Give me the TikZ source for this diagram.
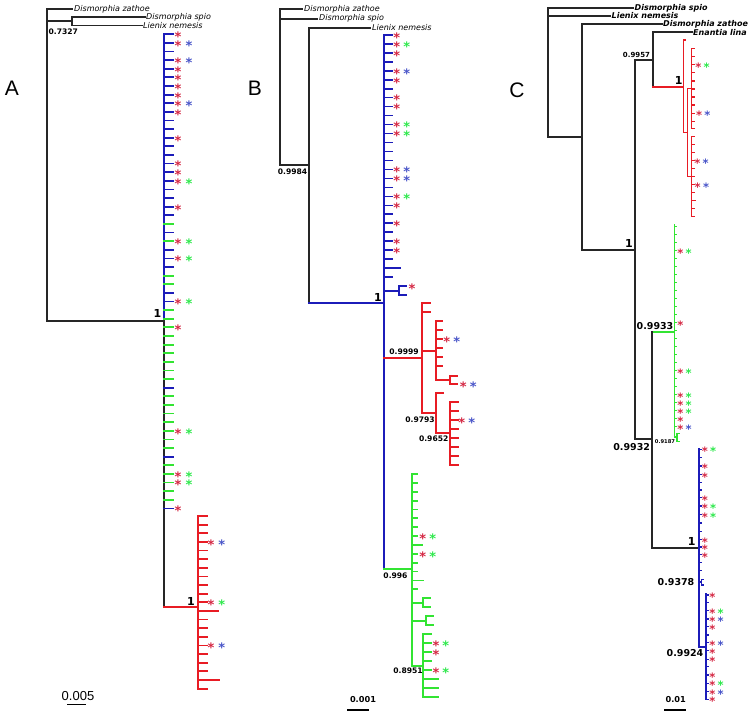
\documentclass[tikz,border=0pt]{standalone}
\usepackage{fontspec}
\setmainfont{DejaVu Sans}
\newfontfamily\lib{Liberation Sans}
\definecolor{cr}{RGB}{232,28,36}
\definecolor{cb}{RGB}{28,28,185}
\definecolor{cg}{RGB}{50,228,50}
\definecolor{sr}{RGB}{212,38,66}
\definecolor{sb}{RGB}{72,84,200}
\definecolor{sg}{RGB}{45,232,75}
\tikzset{
 bk/.style={line width=1.8pt, black!85, line cap=rect},
 lr/.style={line width=1.8pt, cr, line cap=rect},
 lb/.style={line width=1.8pt, cb, line cap=rect},
 lg/.style={line width=1.8pt, cg, line cap=rect},
 st/.style={font=\bfseries\fontsize{13}{13}\selectfont, inner sep=0pt, anchor=base, yshift=-7.4pt},
 sts/.style={font=\bfseries\fontsize{11.5}{12}\selectfont, inner sep=0pt, anchor=base, yshift=-6.6pt},
 sp/.style={font=\itshape\fontsize{8}{8}\selectfont, anchor=west, inner sep=1pt},
 spb/.style={font=\bfseries\itshape\fontsize{8}{8}\selectfont, anchor=west, inner sep=1pt},
 bv/.style={font=\bfseries\fontsize{7.6}{8}\selectfont, inner sep=0pt},
 bvl/.style={font=\bfseries\fontsize{9.5}{10}\selectfont, inner sep=0pt},
 one/.style={font=\bfseries\fontsize{11}{11}\selectfont, inner sep=0pt},
 panel/.style={font=\lib\fontsize{21}{21}\selectfont, inner sep=0pt},
}
\begin{document}
\begin{tikzpicture}[x=1pt,y=-1pt]
\useasboundingbox (0,0) rectangle (750,714);
% ================= PANEL A =================
\node[panel] (labA) at (12,88) {A};
\draw[bk] (72,9) -- (47,9) -- (47,321) -- (164,321);
\draw[bk] (47,21) -- (72,21);
\draw[bk] (145,17) -- (72,17) -- (72,25.5) -- (142,25.5);
\node[sp] (aZ) at (73,9) {Dismorphia zathoe};
\node[sp] (aS) at (145,17) {Dismorphia spio};
\node[sp] (aL) at (142,25.5) {Lienix nemesis};
\node[bv, anchor=west] (aV1) at (48.5,32) {0.7327};
\node[one] (aV2) at (157.5,313.5) {1};
\draw[lb] (164,34.3) -- (164,321);
\draw[bk] (164,321) -- (164,607);
\foreach \c [count=\i from 0] in {lb,lb,lb,lb,lb,lb,lb,lb,lb,lb,lb,lb,lb,lb,lb,lb,lb,lb,lb,lb,lb,lb,lg,lb,lg,lb,lb,lb,lg,lg,lb,lb,lg,lg,lg,lg,lg,lg,lg,lg,lg,lb,lg,lg,lg,lg,lg,lg,lg,lb,lg,lg,lg,lg,lg,lb}
  \draw[\c] (164,{34.3+8.62*\i}) -- ++(9,0);
\foreach \i in {0,1,3,4,5,6,7,8,9,12,15,16,17,20,24,26,31,34,46,51,52,55}
  \node[st,text=sr] (aR\i) at (178,{34.3+8.62*\i}) {*};
\foreach \i/\c in {1/sb,3/sb,8/sb,17/sg,24/sg,26/sg,31/sg,46/sg,51/sg,52/sg}
  \node[st,text=\c] (aS\i) at (189,{34.3+8.62*\i}) {*};
% red clade A
\draw[lr] (164,607) -- (197.7,607);
\draw[lr] (197.7,516) -- (197.7,688.6);
\foreach \j in {0,...,20}
  \draw[lr] (197.7,{516+8.63*\j}) -- ++(9,0);
\draw[lr] (197.7,{516+8.63*11}) -- (218,{516+8.63*11});
\draw[lr] (197.7,{516+8.63*19}) -- (219,{516+8.63*19});
\node[one] (aV3) at (191,601) {1};
\foreach \j/\c in {3/sb,10/sg,15/sb}{
  \node[st,text=sr] (aQ\j) at (211,{516+8.63*\j}) {*};
  \node[st,text=\c] (aP\j) at (221.7,{516+8.63*\j}) {*};}
\node[font=\lib\fontsize{13}{13}\selectfont, inner sep=0pt] (aScale) at (78,696) {0.005};
\draw[line width=1.3pt] (67,704.5) -- (86,704.5);
% ================= PANEL B =================
\node[panel] (labB) at (255,88) {B};
\draw[bk] (302,9) -- (280,9) -- (280,165) -- (309,165);
\draw[bk] (280,18.7) -- (317,18.7);
\draw[bk] (370,27.7) -- (309,27.7) -- (309,303);
\node[sp] (bZ) at (303,9) {Dismorphia zathoe};
\node[sp] (bS) at (318,18.7) {Dismorphia spio};
\node[sp] (bL) at (371,27.7) {Lienix nemesis};
\node[bv] (bV1) at (292.5,172) {0.9984};
\draw[lb] (309,303) -- (384,303);
\node[one] (bV2) at (378,297) {1};
\draw[lb] (384,34.7) -- (384,569.3);
\foreach \i in {0,...,27}
  \draw[lb] (384,{34.7+8.985*\i}) -- ++(7.7,0);
\draw[lb] (384,{34.7+8.985*26}) -- (400,{34.7+8.985*26});
\foreach \i in {0,1,2,4,5,7,8,10,11,15,16,18,19,21,23,24}
  \node[st,text=sr] (bR\i) at (396.7,{34.7+8.985*\i}) {*};
\foreach \i/\c in {1/sg,4/sb,10/sg,11/sg,15/sb,16/sb,18/sg}
  \node[st,text=\c] (bS\i) at (406.7,{34.7+8.985*\i}) {*};
\draw[lb] (384,290.7) -- (399,290.7);
\draw[lb] (405.7,286) -- (399,286) -- (399,295.3) -- (405.7,295.3);
\node[st,text=sr] (bX) at (412,286.5) {*};
% red clade B
\draw[lr] (384,358.3) -- (422.3,358.3);
\draw[lr] (430,303.3) -- (422.3,303.3) -- (422.3,413.3) -- (435.7,413.3);
\draw[lr] (422.3,312.3) -- (430,312.3);
\draw[lr] (422.3,350.7) -- (435.7,350.7);
\draw[lr] (435.7,321) -- (435.7,380) -- (450,380);
\foreach \y in {321,330,339,348.3,357.3,366}
  \draw[lr] (435.7,\y) -- (442,\y);
\draw[lr] (456.7,375.7) -- (450,375.7) -- (450,384.3) -- (456.7,384.3);
\node[st,text=sr] (bR1a) at (446.7,339) {*};
\node[st,text=sb] (bR1b) at (456.7,339) {*};
\node[st,text=sr] (bR2a) at (463.3,384) {*};
\node[st,text=sb] (bR2b) at (473.3,384) {*};
\draw[lr] (443,393.3) -- (435.7,393.3) -- (435.7,432.7) -- (450,432.7);
\draw[lr] (450,401.7) -- (450,465);
\foreach \k in {0,...,7}
  \draw[lr] (450,{401.7+9.04*\k}) -- (457.7,{401.7+9.04*\k});
\node[st,text=sr] (bR3a) at (461.7,419.8) {*};
\node[st,text=sb] (bR3b) at (471.7,419.8) {*};
\node[bv] (bV3) at (404,352) {0.9999};
\node[bv] (bV4) at (420,419.3) {0.9793};
\node[bv] (bV5) at (433.7,438.3) {0.9652};
% green clade B
\draw[lg] (384,569.3) -- (411.7,569.3);
\draw[lg] (411.7,474) -- (411.7,665.7) -- (423.3,665.7);
\foreach \k in {0,...,13}
  \draw[lg] (411.7,{474+8.87*\k}) -- ++(5,0);
\draw[lg] (411.7,{474+8.87*8}) -- (421.7,{474+8.87*8});
\draw[lg] (411.7,{474+8.87*12}) -- (423,{474+8.87*12});
\draw[lg] (411.7,602.7) -- (422.7,602.7);
\draw[lg] (430,598.2) -- (422.7,598.2) -- (422.7,607) -- (430,607);
\draw[lg] (411.7,620.7) -- (425.7,620.7);
\draw[lg] (432.7,616.3) -- (425.7,616.3) -- (425.7,625.3) -- (432.7,625.3);
\draw[lg] (423.3,634.3) -- (423.3,696.7);
\foreach \t in {0,...,4}
  \draw[lg] (423.3,{634.3+8.9*\t}) -- (431,{634.3+8.9*\t});
\foreach \t in {5,6,7}
  \draw[lg] (423.3,{634.3+8.9*\t}) -- (438,{634.3+8.9*\t});
\foreach \k in {7,9}{
  \node[st,text=sr] (bG\k) at (422.7,{474+8.87*\k}) {*};
  \node[st,text=sg] (bH\k) at (432.7,{474+8.87*\k}) {*};}
\foreach \t in {1,2,4}
  \node[st,text=sr] (bT\t) at (436,{634.3+8.9*\t}) {*};
\foreach \t in {1,4}
  \node[st,text=sg] (bU\t) at (445.7,{634.3+8.9*\t}) {*};
\node[bv] (bV6) at (395.5,576) {0.996};
\node[bv] (bV7) at (408,670.7) {0.8951};
\node[font=\bfseries\fontsize{8.2}{9}\selectfont, inner sep=0pt] (bScale) at (363,699.5) {0.001};
\draw[line width=1.4pt] (347,710) -- (369,710);
% ================= PANEL C =================
\node[panel] (labC) at (517,90) {C};
\draw[bk] (633,8) -- (548.3,8) -- (548.3,136.7) -- (582.3,136.7);
\draw[bk] (548.3,16) -- (610,16);
\draw[bk] (661.7,24) -- (582.3,24) -- (582.3,250) -- (634.7,250);
\draw[bk] (653.3,60.3) -- (634.7,60.3) -- (634.7,439.3) -- (651.7,439.3);
\draw[bk] (691.7,32.3) -- (653.3,32.3) -- (653.3,86.7);
\node[spb] (cS) at (633.5,8) {Dismorphia spio};
\node[spb] (cL) at (610.5,16) {Lienix nemesis};
\node[spb] (cZ) at (662,24) {Dismorphia zathoe};
\node[spb] (cE) at (692,32.3) {Enantia lina};
\node[font=\bfseries\fontsize{7}{7}\selectfont, inner sep=0pt] (cV1) at (636.5,54.7) {0.9957};
\node[one] (cV2) at (629,243.3) {1};
% red clade C
\draw[lr] (653.3,86.7) -- (683.3,86.7);
\node[one] (cV3) at (678.7,80.5) {1};
\draw[lr, line width=1.5pt] (685.7,40) -- (683.3,40) -- (683.3,132.7) -- (686.7,132.7);
\draw[lr, line width=1.5pt] (691.7,48.3) -- (691.7,128.3);
\foreach \y in {48.3,56.5,64.7,72.9,81,89,97,105,113.3,121.4,128.3}
  \draw[lr, line width=1.1pt] (691.7,\y) -- ++(2.6,0);
\draw[lr, line width=1.5pt] (690,88.3) -- (687.7,88.3) -- (687.7,176.7) -- (690,176.7);
\draw[lr, line width=1.5pt] (691.7,136.7) -- (691.7,216.7);
\foreach \y in {136.7,144.7,152.7,160.7,168.7,176.7,184.7,192.7,208.7,216.7}
  \draw[lr, line width=1.1pt] (691.7,\y) -- ++(2.6,0);
\draw[lr, line width=1.5pt] (691.7,200.7) -- (695.7,200.7);
\node[sts,text=sr] (cr1) at (698.3,65) {*};
\node[sts,text=sg] (cr2) at (706.7,65) {*};
\node[sts,text=sr] (cr3) at (699,113.3) {*};
\node[sts,text=sb] (cr4) at (707.3,113.3) {*};
\node[sts,text=sr] (cr5) at (697.3,161.3) {*};
\node[sts,text=sb] (cr6) at (705.7,161.3) {*};
\node[sts,text=sr] (cr7) at (697.7,185) {*};
\node[sts,text=sb] (cr8) at (706,185) {*};
% green clade C
\draw[lg] (651.7,331.7) -- (674.3,331.7);
\draw[bk] (651.7,331.7) -- (651.7,548.3) -- (698.7,548.3);
\node[bvl] (cV4) at (655,326) {0.9933};
\node[bvl] (cV5) at (631.7,447.3) {0.9932};
\node[font=\bfseries\fontsize{5.2}{6}\selectfont, inner sep=0pt] (cV6) at (665,442) {0.9187};
\draw[lg, line width=1.5pt] (674.3,225) -- (674.3,437) -- (677,437);
\foreach \k in {0,...,25}
  \draw[lg, line width=1pt] (674.3,{426.7-8*\k}) -- ++(2.6,0);
\draw[lg, line width=1.4pt] (679.3,433.3) -- (677,433.3) -- (677,441.7) -- (679.3,441.7);
\foreach \y in {250.7,322.7,370.7,394.7,402.7,410.7,418.7,426.7}
  \node[sts,text=sr] (cg\y) at (680.3,\y) {*};
\foreach \y/\c in {250.7/sg,370.7/sg,394.7/sg,402.7/sg,410.7/sg,426.7/sb}
  \node[sts,text=\c] (ch\y) at (688.5,\y) {*};
% blue clade C
\draw[lb] (698.7,449.3) -- (698.7,646.7) -- (706,646.7);
\foreach \y in {449.3,457.7,466,474.4,482.5,490,497.5,506,514.5,523,531.5,539.5,547,554.5,562.5,570.7}
  \draw[lb, line width=1.1pt] (698.7,\y) -- ++(2.8,0);
\draw[lb] (698.7,581.7) -- (701.5,581.7);
\draw[lb, line width=1.4pt] (703.5,579.3) -- (701.5,579.3) -- (701.5,585) -- (703.5,585);
\node[bvl] (cV7) at (676,581.7) {0.9378};
\node[one] (cV8) at (691.7,541.7) {1};
\foreach \y in {449.3,466,474.4,497.5,506,514.5,539.5,547,554.5}
  \node[sts,text=sr] (cb\y) at (705,\y) {*};
\foreach \y in {449.3,506,514.5}
  \node[sts,text=sg] (cc\y) at (713,\y) {*};
\draw[lb] (706,594) -- (706,699.3);
\foreach \y in {595,602.7,610.7,619,626.7,635,642.7,650.7,659.3,666.7,675,683.3,691.7,699.3}
  \draw[lb, line width=1.1pt] (706,\y) -- ++(2.6,0);
\foreach \y in {595,610.7,619,626.7,642.7,650.7,659.3,675,683.3,691.7,699.3}
  \node[sts,text=sr] (cd\y) at (712.3,\y) {*};
\foreach \y/\c in {610.7/sg,619/sb,642.7/sb,683.3/sg,691.7/sb}
  \node[sts,text=\c] (ce\y) at (720.7,\y) {*};
\node[bvl] (cV9) at (685,652.7) {0.9924};
\node[font=\bfseries\fontsize{8.2}{9}\selectfont, inner sep=0pt] (cScale) at (675.7,699.3) {0.01};
\draw[line width=1.4pt] (664,710) -- (685.7,710);
\end{tikzpicture}
\end{document}
